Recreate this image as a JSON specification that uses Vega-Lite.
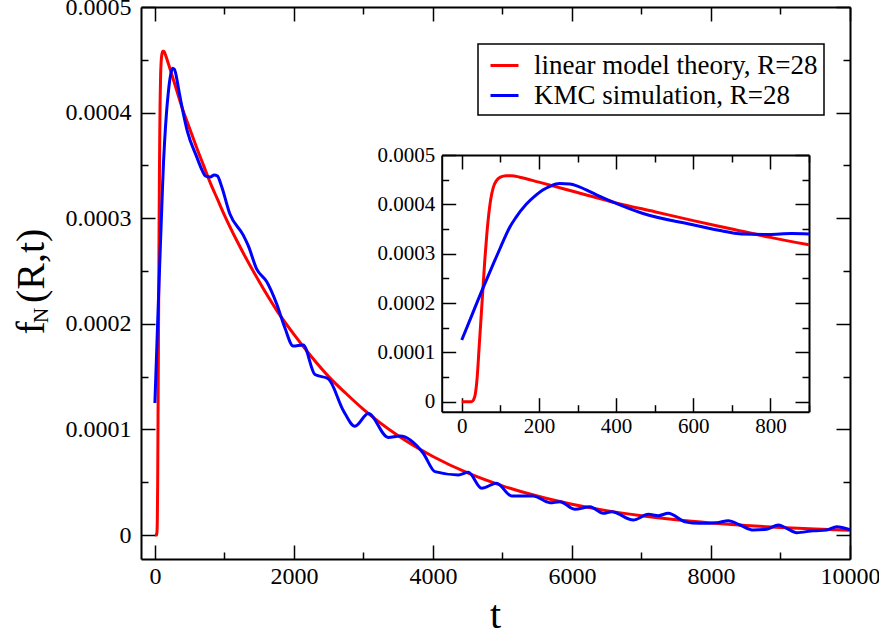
{
 "$schema": "https://vega.github.io/schema/vega-lite/v6.json",
 "width": 709, "height": 552,
 "autosize": {"type": "none"},
 "padding": {"left": 141, "top": 7, "right": 29, "bottom": 77},
 "background": "white",
 "data": {"values": [
  {"s":"theory","t":0,"f":0},{"s":"theory","t":25,"f":0},{"s":"theory","t":30,"f":0.000003},{"s":"theory","t":35,"f":0.000015},{"s":"theory","t":40,"f":0.00005},{"s":"theory","t":45,"f":0.00011},{"s":"theory","t":50,"f":0.00017},{"s":"theory","t":55,"f":0.00023},{"s":"theory","t":60,"f":0.00029},{"s":"theory","t":65,"f":0.00034},{"s":"theory","t":70,"f":0.00038},{"s":"theory","t":75,"f":0.00041},{"s":"theory","t":82,"f":0.000435},{"s":"theory","t":90,"f":0.000448},{"s":"theory","t":100,"f":0.000455},{"s":"theory","t":115,"f":0.000458},{"s":"theory","t":130,"f":0.000458},{"s":"theory","t":150,"f":0.000455},{"s":"theory","t":200,"f":0.000445},{"s":"theory","t":300,"f":0.000424},{"s":"theory","t":400,"f":0.000403},{"s":"theory","t":500,"f":0.000385},{"s":"theory","t":600,"f":0.000367},{"s":"theory","t":700,"f":0.00035},{"s":"theory","t":800,"f":0.000333},{"s":"theory","t":900,"f":0.000318},{"s":"theory","t":1000,"f":0.000303},{"s":"theory","t":1200,"f":0.000276},{"s":"theory","t":1500,"f":0.00024},{"s":"theory","t":1750,"f":0.000213},{"s":"theory","t":2000,"f":0.00019},{"s":"theory","t":2250,"f":0.000169},{"s":"theory","t":2500,"f":0.00015},{"s":"theory","t":2750,"f":0.000134},{"s":"theory","t":3000,"f":0.000119},{"s":"theory","t":3500,"f":0.000094},{"s":"theory","t":4000,"f":0.0000744},{"s":"theory","t":4500,"f":0.0000588},{"s":"theory","t":5000,"f":0.0000466},{"s":"theory","t":5500,"f":0.0000369},{"s":"theory","t":6000,"f":0.0000292},{"s":"theory","t":6500,"f":0.0000231},{"s":"theory","t":7000,"f":0.0000183},{"s":"theory","t":7500,"f":0.0000144},{"s":"theory","t":8000,"f":0.0000114},{"s":"theory","t":8500,"f":0.000009},{"s":"theory","t":9000,"f":0.0000072},{"s":"theory","t":9500,"f":0.0000057},{"s":"theory","t":10000,"f":0.0000045},
  {"s":"KMC","t":0,"f":0.000125},{"s":"KMC","t":25,"f":0.000173},{"s":"KMC","t":50,"f":0.000221},{"s":"KMC","t":82,"f":0.00028},{"s":"KMC","t":100,"f":0.000312},{"s":"KMC","t":110,"f":0.00033},{"s":"KMC","t":124,"f":0.000353},{"s":"KMC","t":140,"f":0.000373},{"s":"KMC","t":167,"f":0.0004},{"s":"KMC","t":190,"f":0.000417},{"s":"KMC","t":210,"f":0.000429},{"s":"KMC","t":230,"f":0.000437},{"s":"KMC","t":253,"f":0.000442},{"s":"KMC","t":280,"f":0.000441},{"s":"KMC","t":300,"f":0.000437},{"s":"KMC","t":339,"f":0.000423},{"s":"KMC","t":397,"f":0.000403},{"s":"KMC","t":468,"f":0.000382},{"s":"KMC","t":596,"f":0.000359},{"s":"KMC","t":682,"f":0.000345},{"s":"KMC","t":725,"f":0.00034},{"s":"KMC","t":796,"f":0.000339},{"s":"KMC","t":854,"f":0.000341},{"s":"KMC","t":900,"f":0.00034},{"s":"KMC","t":960,"f":0.00033},{"s":"KMC","t":1079,"f":0.000304},{"s":"KMC","t":1271,"f":0.000284},{"s":"KMC","t":1343,"f":0.000274},{"s":"KMC","t":1463,"f":0.000252},{"s":"KMC","t":1607,"f":0.00024},{"s":"KMC","t":1751,"f":0.000219},{"s":"KMC","t":1871,"f":0.000196},{"s":"KMC","t":1990,"f":0.000179},{"s":"KMC","t":2134,"f":0.00018},{"s":"KMC","t":2302,"f":0.000152},{"s":"KMC","t":2494,"f":0.000148},{"s":"KMC","t":2710,"f":0.000118},{"s":"KMC","t":2878,"f":0.000103},{"s":"KMC","t":3070,"f":0.000115},{"s":"KMC","t":3357,"f":0.0000924},{"s":"KMC","t":3525,"f":0.0000938},{"s":"KMC","t":3861,"f":0.0000774},{"s":"KMC","t":4029,"f":0.00006},{"s":"KMC","t":4365,"f":0.0000569},{"s":"KMC","t":4508,"f":0.0000594},{"s":"KMC","t":4700,"f":0.0000443},{"s":"KMC","t":4916,"f":0.000049},{"s":"KMC","t":5132,"f":0.000037},{"s":"KMC","t":5443,"f":0.000037},{"s":"KMC","t":5683,"f":0.0000306},{"s":"KMC","t":5827,"f":0.0000316},{"s":"KMC","t":6043,"f":0.0000243},{"s":"KMC","t":6259,"f":0.0000268},{"s":"KMC","t":6451,"f":0.0000206},{"s":"KMC","t":6571,"f":0.0000221},{"s":"KMC","t":6882,"f":0.0000142},{"s":"KMC","t":7098,"f":0.0000196},{"s":"KMC","t":7242,"f":0.0000183},{"s":"KMC","t":7386,"f":0.0000206},{"s":"KMC","t":7626,"f":0.0000126},{"s":"KMC","t":7842,"f":0.0000111},{"s":"KMC","t":8082,"f":0.0000117},{"s":"KMC","t":8249,"f":0.0000136},{"s":"KMC","t":8417,"f":0.0000095},{"s":"KMC","t":8609,"f":0.0000047},{"s":"KMC","t":8801,"f":0.0000054},{"s":"KMC","t":8969,"f":0.0000095},{"s":"KMC","t":9089,"f":0.0000064},{"s":"KMC","t":9233,"f":0.0000022},{"s":"KMC","t":9472,"f":0.0000041},{"s":"KMC","t":9664,"f":0.0000047},{"s":"KMC","t":9808,"f":0.0000079},{"s":"KMC","t":10000,"f":0.000005}
 ]},
 "layer": [
  {
   "transform": [{"filter": "datum.s === 'theory'"}],
   "mark": {"type": "line", "strokeWidth": 3, "interpolate": "monotone"},
   "encoding": {
    "x": {"field": "t", "type": "quantitative", "scale": {"domain": [-200, 10000], "nice": false, "zero": false},
      "axis": {"orient": "bottom", "values": [0,1000,2000,3000,4000,5000,6000,7000,8000,9000,10000], "format": "d",
        "labelExpr": "datum.value % 2000 === 0 ? datum.label : ''",
        "tickSize": {"condition": {"test": "datum.value % 2000 === 0", "value": -14}, "value": -7},
        "labelPadding": 19, "labelFontSize": 24,
        "title": "t", "titleFontSize": 40, "titleX": 354, "titleY": 68, "titleAlign": "center", "titleBaseline": "alphabetic"}},
    "y": {"field": "f", "type": "quantitative", "scale": {"domain": [-0.0000227, 0.0005], "nice": false, "zero": false},
      "axis": {"orient": "left", "values": [0,0.00005,0.0001,0.00015,0.0002,0.00025,0.0003,0.00035,0.0004,0.00045,0.0005],
        "labelExpr": "round(datum.value*100000) % 10 === 0 ? (datum.value === 0 ? '0' : format(datum.value, '.4f')) : ''",
        "tickSize": {"condition": {"test": "round(datum.value*100000) % 10 === 0", "value": -14}, "value": -7},
        "labelPadding": 24, "labelFontSize": 24,
        "title": "f\u2005\u2009(R,t)", "titleFontSize": 40, "titleAngle": 270, "titleX": -98, "titleY": 274, "titleAlign": "center", "titleBaseline": "alphabetic"}},
    "color": {"field": "s", "type": "nominal", "scale": {"domain": ["theory", "KMC"], "range": ["#ff0000", "#0000ff"]},
      "legend": {"title": null, "orient": "none", "legendX": 337, "legendY": 37, "direction": "vertical",
        "labelExpr": "datum.label === 'theory' ? 'linear model theory, R=28' : 'KMC simulation, R=28'"}}
   }
  },
  {
   "transform": [{"filter": "datum.s === 'KMC'"}],
   "mark": {"type": "line", "strokeWidth": 3, "interpolate": "monotone"},
   "encoding": {
    "x": {"field": "t", "type": "quantitative", "scale": {"domain": [-200, 10000], "nice": false, "zero": false},
      "axis": {"orient": "top", "values": [0,1000,2000,3000,4000,5000,6000,7000,8000,9000,10000], "labels": false,
        "tickSize": {"condition": {"test": "datum.value % 2000 === 0", "value": -14}, "value": -7},
        "title": "N", "titleFontSize": 21, "titleAngle": 270, "titleX": -94, "titleY": 308, "titleAlign": "center", "titleBaseline": "alphabetic"}},
    "y": {"field": "f", "type": "quantitative", "scale": {"domain": [-0.0000227, 0.0005], "nice": false, "zero": false},
      "axis": {"orient": "right", "values": [0,0.00005,0.0001,0.00015,0.0002,0.00025,0.0003,0.00035,0.0004,0.00045,0.0005], "labels": false,
        "tickSize": {"condition": {"test": "round(datum.value*100000) % 10 === 0", "value": -14}, "value": -7},
        "title": null}},
    "color": {"field": "s", "type": "nominal", "scale": {"domain": ["theory", "KMC"], "range": ["#ff0000", "#0000ff"]}}
   }
  },
  {
   "transform": [{"filter": "datum.s === 'theory' && datum.t <= 900"}],
   "mark": {"type": "line", "strokeWidth": 3, "interpolate": "monotone"},
   "encoding": {
    "x": {"field": "t", "type": "quantitative", "scale": {"domain": [-52, 900], "range": [300.7, 668], "nice": false, "zero": false},
      "axis": {"orient": "bottom", "offset": -147.3, "values": [0,100,200,300,400,500,600,700,800,900], "format": "d",
        "labelExpr": "datum.value % 200 === 0 ? datum.label : ''",
        "tickSize": {"condition": {"test": "datum.value % 200 === 0", "value": -14}, "value": -7},
        "labelPadding": 18, "labelFontSize": 21, "title": null}},
    "y": {"field": "f", "type": "quantitative", "scale": {"domain": [-0.0000203, 0.0005], "range": [404.7, 148], "nice": false, "zero": false},
      "axis": {"orient": "left", "offset": -300.7, "values": [0,0.00005,0.0001,0.00015,0.0002,0.00025,0.0003,0.00035,0.0004,0.00045,0.0005],
        "labelExpr": "round(datum.value*100000) % 10 === 0 ? (datum.value === 0 ? '0' : format(datum.value, '.4f')) : ''",
        "tickSize": {"condition": {"test": "round(datum.value*100000) % 10 === 0", "value": -14}, "value": -7},
        "labelPadding": 21, "labelFontSize": 21, "title": null}},
    "color": {"field": "s", "type": "nominal", "scale": {"domain": ["theory", "KMC"], "range": ["#ff0000", "#0000ff"]}}
   }
  },
  {
   "transform": [{"filter": "datum.s === 'KMC' && datum.t <= 900"}],
   "mark": {"type": "line", "strokeWidth": 3, "interpolate": "monotone"},
   "encoding": {
    "x": {"field": "t", "type": "quantitative", "scale": {"domain": [-52, 900], "range": [300.7, 668], "nice": false, "zero": false},
      "axis": {"orient": "top", "offset": -148, "values": [0,100,200,300,400,500,600,700,800,900], "labels": false,
        "tickSize": {"condition": {"test": "datum.value % 200 === 0", "value": -14}, "value": -7}, "title": null}},
    "y": {"field": "f", "type": "quantitative", "scale": {"domain": [-0.0000203, 0.0005], "range": [404.7, 148], "nice": false, "zero": false},
      "axis": {"orient": "right", "offset": -41, "values": [0,0.00005,0.0001,0.00015,0.0002,0.00025,0.0003,0.00035,0.0004,0.00045,0.0005], "labels": false,
        "tickSize": {"condition": {"test": "round(datum.value*100000) % 10 === 0", "value": -14}, "value": -7}, "title": null}},
    "color": {"field": "s", "type": "nominal", "scale": {"domain": ["theory", "KMC"], "range": ["#ff0000", "#0000ff"]}}
   }
  }
 ],
 "resolve": {"scale": {"x": "independent", "y": "independent"}, "axis": {"x": "independent", "y": "independent"}},
 "config": {
  "view": {"stroke": null},
  "font": "Liberation Serif",
  "axis": {"grid": false, "labelFont": "Liberation Serif", "titleFont": "Liberation Serif", "labelColor": "black", "titleColor": "black",
    "titleFontWeight": "normal", "domainColor": "black", "domainWidth": 2, "tickColor": "black", "tickWidth": 1.5,
    "labelFlush": false, "labelOverlap": false, "labelBound": false},
  "legend": {"symbolType": "stroke", "symbolStrokeWidth": 3, "symbolSize": 784, "symbolOffset": 5, "labelFont": "Liberation Serif", "labelFontSize": 27,
    "labelColor": "black", "labelOffset": 14, "padding": 6, "rowPadding": 1, "strokeColor": "black", "fillColor": "white", "labelLimit": 0, "strokeWidth": 1.5}
 }
}
